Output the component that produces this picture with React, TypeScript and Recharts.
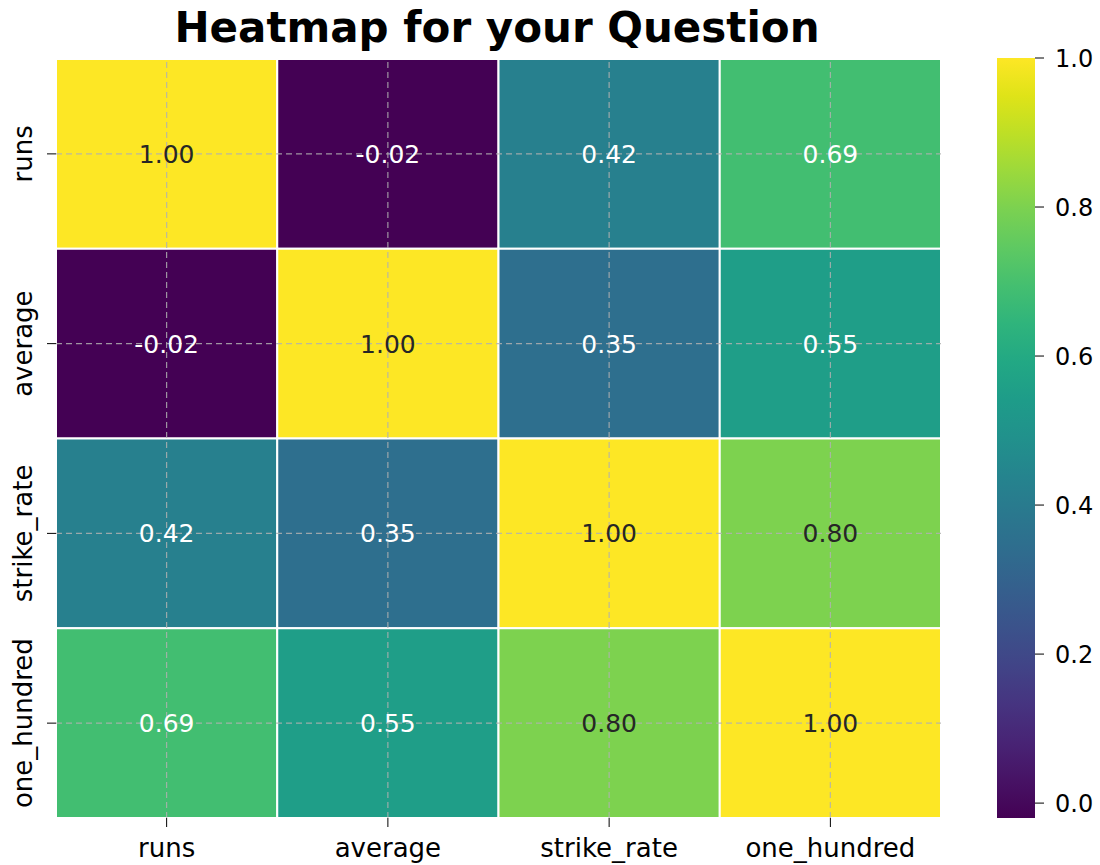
import { ScatterChart, Scatter, ComposedChart, Bar, XAxis, YAxis, ReferenceArea, ReferenceLine } from 'recharts';

const FONT = '"DejaVu Sans", sans-serif';

// correlation matrix, one row per variable
const LABELS = ['runs', 'average', 'strike_rate', 'one_hundred'];
const ROW_RUNS = [1.0, -0.02, 0.42, 0.69];
const ROW_AVERAGE = [-0.02, 1.0, 0.35, 0.55];
const ROW_STRIKE_RATE = [0.42, 0.35, 1.0, 0.8];
const ROW_ONE_HUNDRED = [0.69, 0.55, 0.8, 1.0];
const MATRIX = [ROW_RUNS, ROW_AVERAGE, ROW_STRIKE_RATE, ROW_ONE_HUNDRED];

const CBAR_TICKS = [0, 0.2, 0.4, 0.6, 0.8, 1.0];
const VMIN = -0.02;
const VMAX = 1.0;

// viridis at 0.05 steps
const VIRIDIS = [
  '#440154', '#471365', '#482475', '#463480', '#414487', '#3b528b', '#355f8d',
  '#2f6c8e', '#2a788e', '#25848e', '#21918c', '#1e9c89', '#22a884', '#2fb47c',
  '#44bf70', '#5ec962', '#7ad151', '#9bd93c', '#bddf26', '#dfe318', '#fde725',
];

const hexToRgb = (h: string) => [1, 3, 5].map((i) => parseInt(h.slice(i, i + 2), 16));

const viridis = (t: number) => {
  const p = Math.max(0, Math.min(1, t)) * (VIRIDIS.length - 1);
  const i = Math.min(Math.floor(p), VIRIDIS.length - 2);
  const f = p - i;
  const a = hexToRgb(VIRIDIS[i]);
  const b = hexToRgb(VIRIDIS[i + 1]);
  const c = a.map((v, k) => Math.round(v + (b[k] - v) * f));
  return `rgb(${c[0]},${c[1]},${c[2]})`;
};

const colorFor = (v: number) => viridis((v - VMIN) / (VMAX - VMIN));

// seaborn-like choice of annotation colour
const textFor = (v: number) => {
  const t = (v - VMIN) / (VMAX - VMIN);
  const p = Math.max(0, Math.min(1, t)) * (VIRIDIS.length - 1);
  const rgb = hexToRgb(VIRIDIS[Math.round(p)]).map((c) => {
    const s = c / 255;
    return s <= 0.03928 ? s / 12.92 : Math.pow((s + 0.055) / 1.055, 2.4);
  });
  const lum = 0.2126 * rgb[0] + 0.7152 * rgb[1] + 0.0722 * rgb[2];
  return lum > 0.408 ? '#262626' : '#ffffff';
};

const TICKS = LABELS.map((_, i) => i + 0.5);
const cells = MATRIX.flatMap((row, r) => row.map((v, c) => ({ r, c, v, x: c + 0.5, y: r + 0.5 })));
const cbarData = [{ name: 'cbar', range: [VMIN, VMAX] }];

const XTick = (props: any) => {
  const { x, y, payload } = props;
  return (
    <text x={x} y={y + 28} textAnchor="middle" fill="#000" fontSize={26} fontFamily={FONT}>
      {LABELS[Math.floor(payload.value)]}
    </text>
  );
};

const YTick = (props: any) => {
  const { x, y, payload } = props;
  return (
    <text
      transform={`translate(${x - 13}, ${y}) rotate(-90)`}
      textAnchor="middle"
      fill="#000"
      fontSize={26}
      fontFamily={FONT}
    >
      {LABELS[Math.floor(payload.value)]}
    </text>
  );
};

const App = () => {
  return (
    <div style={{ position: 'absolute', left: 0, top: 0, width: 1100, height: 865, background: '#fff' }}>
      <svg width={1100} height={865} style={{ position: 'absolute', left: 0, top: 0 }}>
        <defs>
          <linearGradient id="viridisGrad" x1="0" y1="1" x2="0" y2="0">
            {VIRIDIS.map((c, i) => (
              <stop key={i} offset={i / (VIRIDIS.length - 1)} stopColor={c} />
            ))}
          </linearGradient>
        </defs>
        <text x={497} y={42} textAnchor="middle" fontSize={42} fontWeight="bold" fontFamily={FONT} fill="#000">
          Heatmap for your Question
        </text>
      </svg>

      <div style={{ position: 'absolute', left: 0, top: 0 }}>
        <ScatterChart width={1100} height={865} margin={{ top: 59, right: 159, bottom: 0, left: 0 }}>
          <XAxis
            type="number"
            dataKey="x"
            domain={[0, 4]}
            ticks={TICKS}
            interval={0}
            allowDataOverflow
            axisLine={false}
            tickSize={9}
            tickLine={{ stroke: '#000' }}
            tick={XTick}
            height={47}
          />
          <YAxis
            type="number"
            dataKey="y"
            domain={[0, 4]}
            reversed
            ticks={TICKS}
            interval={0}
            allowDataOverflow
            axisLine={false}
            tickSize={9}
            tickLine={{ stroke: '#000' }}
            tick={YTick}
            width={56}
          />
          {cells.map((d) => (
            <ReferenceArea
              key={`${d.r}-${d.c}`}
              x1={d.c}
              x2={d.c + 1}
              y1={d.r}
              y2={d.r + 1}
              fill={colorFor(d.v)}
              fillOpacity={1}
              stroke="#ffffff"
              strokeWidth={2}
              ifOverflow="visible"
            />
          ))}
          {TICKS.map((t) => (
            <ReferenceLine key={`vx${t}`} x={t} stroke="#b0b0b0" strokeOpacity={0.85} strokeWidth={1.2} strokeDasharray="6 4" />
          ))}
          {TICKS.map((t) => (
            <ReferenceLine key={`hy${t}`} y={t} stroke="#b0b0b0" strokeOpacity={0.85} strokeWidth={1.2} strokeDasharray="6 4" />
          ))}
          {cells.map((d) => (
            <ReferenceArea
              key={`lab-${d.r}-${d.c}`}
              x1={d.c}
              x2={d.c + 1}
              y1={d.r}
              y2={d.r + 1}
              fillOpacity={0}
              strokeOpacity={0}
              ifOverflow="visible"
              label={{
                value: d.v.toFixed(2),
                position: 'center',
                fill: textFor(d.v),
                fontSize: 25,
                fontFamily: FONT,
              }}
            />
          ))}
          <Scatter data={cells} isAnimationActive={false} shape={() => <g />} />
        </ScatterChart>
      </div>

      <div style={{ position: 'absolute', left: 940, top: 0 }}>
        <ComposedChart
          width={160}
          height={865}
          data={cbarData}
          margin={{ top: 58, right: 0, bottom: 47, left: 57 }}
          barCategoryGap={0}
        >
          <XAxis type="category" dataKey="name" hide />
          <YAxis
            type="number"
            orientation="right"
            domain={[VMIN, VMAX]}
            ticks={CBAR_TICKS}
            interval={0}
            allowDataOverflow
            axisLine={false}
            tickSize={9}
            tickMargin={11}
            tickLine={{ stroke: '#000' }}
            tick={{ fill: '#000', fontSize: 24, fontFamily: FONT }}
            tickFormatter={(v: number) => v.toFixed(1)}
            width={65}
          />
          <Bar dataKey="range" fill="url(#viridisGrad)" isAnimationActive={false} />
        </ComposedChart>
      </div>
    </div>
  );
};

export default App;
